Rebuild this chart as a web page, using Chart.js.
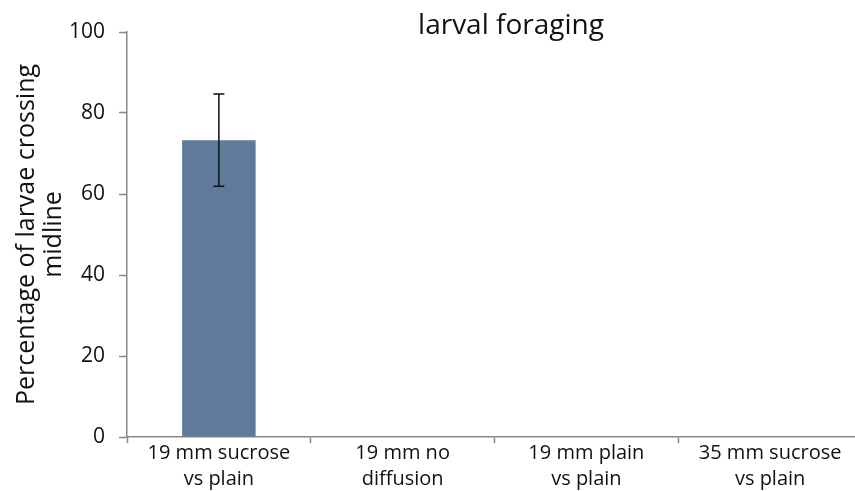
<!DOCTYPE html>
<html>
<head>
<meta charset="utf-8">
<script src="https://cdn.jsdelivr.net/npm/chart.js@4/dist/chart.umd.min.js"></script>
<style>
html,body{margin:0;padding:0;background:#fff;overflow:hidden;}
#wrap{width:862px;height:491px;position:relative;}
</style>
</head>
<body>
<div id="wrap"><canvas id="c"></canvas></div>
<script>
const categories = [["19 mm sucrose","vs plain"],["19 mm no","diffusion"],["19 mm plain","vs plain"],["35 mm sucrose","vs plain"]];
const values = [73.3, 0, 0, 0];
const errors = [11.4, null, null, null];
const yTicks = [0, 20, 40, 60, 80, 100];
const chartTitle = "larval foraging";
const yTitle = ["Percentage of larvae crossing", "midline"];

const FONT = "'Open Sans', 'Noto Sans', sans-serif";
const AXIS = "#8c8686";

const errorBars = {
  id: 'errorBars',
  afterDatasetsDraw(chart) {
    const ctx = chart.ctx;
    const meta = chart.getDatasetMeta(0);
    const y = chart.scales.y;
    ctx.save();
    ctx.strokeStyle = '#111';
    ctx.lineWidth = 1.5;
    meta.data.forEach((bar, i) => {
      const e = errors[i];
      if (e == null) return;
      const x = bar.x;
      const top = y.getPixelForValue(values[i] + e);
      const bot = y.getPixelForValue(values[i] - e);
      const cap = 5.5;
      ctx.beginPath();
      ctx.moveTo(x, top); ctx.lineTo(x, bot);
      ctx.moveTo(x - cap, top); ctx.lineTo(x + cap, top);
      ctx.moveTo(x - cap, bot); ctx.lineTo(x + cap, bot);
      ctx.stroke();
    });
    ctx.restore();
  }
};

const titlePlugin = {
  id: 'customTitle',
  afterDraw(chart) {
    const ctx = chart.ctx;
    ctx.save();
    ctx.fillStyle = '#111';
    ctx.font = "28px " + FONT;
    ctx.textAlign = 'center';
    ctx.textBaseline = 'middle';
    ctx.fillText(chartTitle, 511, 26);
    ctx.restore();
  }
};

new Chart(document.getElementById('c'), {
  type: 'bar',
  data: {
    labels: categories,
    datasets: [{
      data: values,
      backgroundColor: '#5f7a9b',
      borderWidth: 0,
      barPercentage: 0.4,
      categoryPercentage: 1.0
    }]
  },
  options: {
    responsive: true,
    maintainAspectRatio: false,
    animation: false,
    layout: { padding: { top: 32, right: 0, bottom: 0, left: 0 } },
    plugins: { legend: { display: false }, tooltip: { enabled: false }, title: { display: false } },
    scales: {
      x: {
        offset: true,
        afterFit(scale) { scale.height = 54; },
        grid: { display: true, drawOnChartArea: false, offset: true, color: AXIS, tickLength: 6, tickWidth: 1.5 },
        border: { display: true, color: AXIS, width: 1.5 },
        ticks: { color: '#111', font: { family: FONT, size: 20, lineHeight: 1.3 }, maxRotation: 0, autoSkip: false, padding: -3 }
      },
      y: {
        min: 0, max: 100,
        afterFit(scale) { scale.width = 127; },
        afterBuildTicks(scale) { scale.ticks = yTicks.map(v => ({ value: v })); },
        grid: { display: true, drawOnChartArea: false, color: AXIS, tickLength: 8, tickWidth: 1.5 },
        border: { display: true, color: AXIS, width: 1.5 },
        ticks: { color: '#111', font: { family: FONT, size: 21 }, padding: 14 },
        title: { display: true, text: yTitle, color: '#111', font: { family: FONT, size: 25, lineHeight: 1.05 }, padding: { top: 14, bottom: 0 } }
      }
    }
  },
  plugins: [errorBars, titlePlugin]
});
</script>
</body>
</html>
